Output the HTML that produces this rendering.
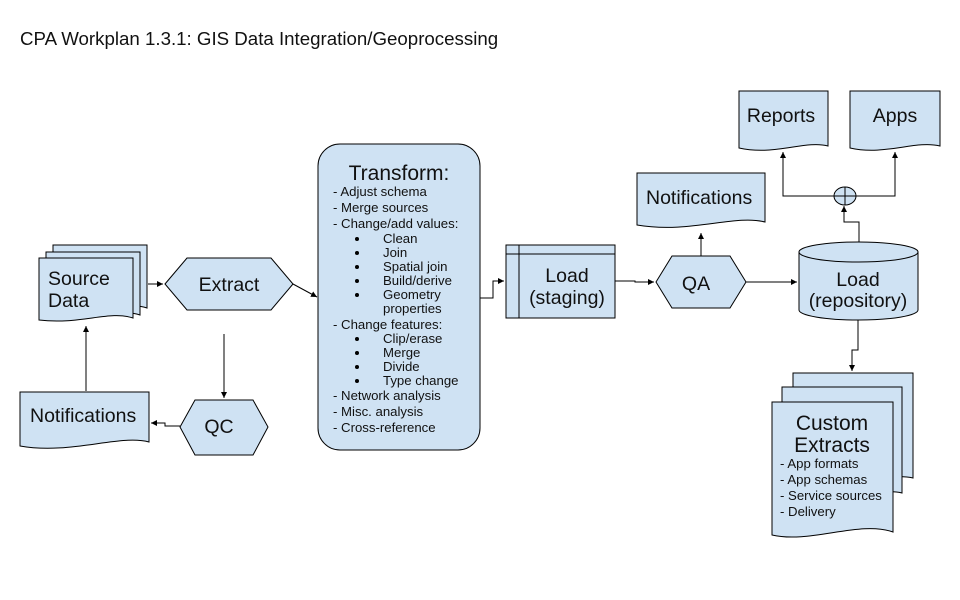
<!DOCTYPE html>
<html><head><meta charset="utf-8"><style>
html,body{margin:0;padding:0;background:#fff;width:960px;height:600px;overflow:hidden}
text{font-family:"Liberation Sans",sans-serif;fill:#111}
</style></head><body>
<svg width="960" height="600" viewBox="0 0 960 600" xmlns="http://www.w3.org/2000/svg">
<defs><marker id="a" markerWidth="8" markerHeight="8" refX="6" refY="3" orient="auto" markerUnits="userSpaceOnUse"><path d="M0,0 L6,3 L0,6 Z" fill="#000"/></marker></defs>
<text x="20" y="45" font-size="18.7">CPA Workplan 1.3.1: GIS Data Integration/Geoprocessing</text>
<g fill="#cfe2f3" stroke="#000" stroke-width="1">
<path d="M53,245 H147 V308 C130,302 110,312 53,310 Z"/>
<path d="M46,252 H140 V315 C123,309 103,319 46,317 Z"/>
<path d="M39,258 H133 V318 C110,310 80,325 39,320 Z"/>
<polygon points="165,284 187,258 271,258 293,284 271,310 187,310"/>
<polygon points="180,427 195,400 253,400 268,427 253,455 195,455"/>
<path d="M20,392 H149 V442 C120,434 70,455 20,446 Z"/>
<rect x="318" y="144" width="162" height="306" rx="22" ry="22"/>
<rect x="506" y="245" width="109" height="73"/>
<polygon points="656,282 672,256 730,256 746,282 730,308 672,308"/>
<path d="M637,173 H765 V222 C735,214 690,234 637,225 Z"/>
<path d="M799,252 V310 A59.5,10 0 0 0 918,310 V252 Z"/>
<ellipse cx="858.5" cy="252" rx="59.5" ry="10"/>
<ellipse cx="845" cy="196" rx="11" ry="9"/>
<path d="M739,91 H828 V146 C805,140 775,156 739,148 Z"/>
<path d="M850,91 H940 V146 C915,140 885,156 850,148 Z"/>
<path d="M793,373 H913 V478 C890,472 830,488 793,480 Z"/>
<path d="M782,387 H902 V493 C879,487 819,503 782,495 Z"/>
<path d="M772,402 H893 V532 C860,520 810,544 772,535 Z"/>
</g>
<g stroke="#000" stroke-width="1" fill="none">
<line x1="519" y1="245" x2="519" y2="318"/><line x1="506" y1="254" x2="615" y2="254"/>
<line x1="834" y1="196" x2="856" y2="196"/><line x1="845" y1="187" x2="845" y2="205"/>
<line x1="148" y1="284" x2="163" y2="284" marker-end="url(#a)"/>
<line x1="293" y1="284" x2="317" y2="297" marker-end="url(#a)"/>
<line x1="224" y1="334" x2="224" y2="398" marker-end="url(#a)"/>
<polyline points="180,426 165,426 165,423 151,423" marker-end="url(#a)"/>
<line x1="86" y1="391" x2="86" y2="326" marker-end="url(#a)"/>
<polyline points="480,298 493,298 493,281 504,281" marker-end="url(#a)"/>
<polyline points="615,281 635,281 635,282 654,282" marker-end="url(#a)"/>
<line x1="701" y1="256" x2="701" y2="233" marker-end="url(#a)"/>
<line x1="746" y1="282" x2="797" y2="282" marker-end="url(#a)"/>
<polyline points="859,242 859,222 844,222 844,206" marker-end="url(#a)"/>
<polyline points="834,196 783,196 783,152" marker-end="url(#a)"/>
<polyline points="856,196 895,196 895,152" marker-end="url(#a)"/>
<polyline points="858,320 858,350 852,350 852,371" marker-end="url(#a)"/>
</g>
<g font-size="19.5">
<text x="48" y="285">Source</text><text x="48" y="307">Data</text>
<text x="229" y="291" text-anchor="middle">Extract</text>
<text x="219" y="433" text-anchor="middle">QC</text>
<text x="30" y="422">Notifications</text>
<text x="567" y="282" text-anchor="middle">Load</text>
<text x="567" y="304" text-anchor="middle">(staging)</text>
<text x="696" y="290" text-anchor="middle">QA</text>
<text x="646" y="204">Notifications</text>
<text x="858" y="286" text-anchor="middle">Load</text>
<text x="858" y="307" text-anchor="middle">(repository)</text>
<text x="781" y="122" text-anchor="middle">Reports</text>
<text x="895" y="122" text-anchor="middle">Apps</text>
</g>
<text x="399" y="180" font-size="21" text-anchor="middle">Transform:</text>
<g font-size="13.2">
<text x="333" y="196">- Adjust schema</text>
<text x="333" y="212">- Merge sources</text>
<text x="333" y="228">- Change/add values:</text>
<text x="383" y="243">Clean</text>
<text x="383" y="257">Join</text>
<text x="383" y="271">Spatial join</text>
<text x="383" y="285">Build/derive</text>
<text x="383" y="299">Geometry</text>
<text x="383" y="313">properties</text>
<text x="333" y="329">- Change features:</text>
<text x="383" y="343">Clip/erase</text>
<text x="383" y="357">Merge</text>
<text x="383" y="371">Divide</text>
<text x="383" y="385">Type change</text>
<text x="333" y="400">- Network analysis</text>
<text x="333" y="416">- Misc. analysis</text>
<text x="333" y="432">- Cross-reference</text>
<text x="780" y="468">- App formats</text>
<text x="780" y="484">- App schemas</text>
<text x="780" y="500">- Service sources</text>
<text x="780" y="516">- Delivery</text>
</g>
<g fill="#000">
<circle cx="357" cy="239" r="2"/><circle cx="357" cy="253" r="2"/><circle cx="357" cy="267" r="2"/><circle cx="357" cy="281" r="2"/><circle cx="357" cy="295" r="2"/>
<circle cx="357" cy="339" r="2"/><circle cx="357" cy="353" r="2"/><circle cx="357" cy="367" r="2"/><circle cx="357" cy="381" r="2"/>
</g>
<text x="832" y="430" font-size="21" text-anchor="middle">Custom</text>
<text x="832" y="452" font-size="21" text-anchor="middle">Extracts</text>
</svg>
</body></html>
